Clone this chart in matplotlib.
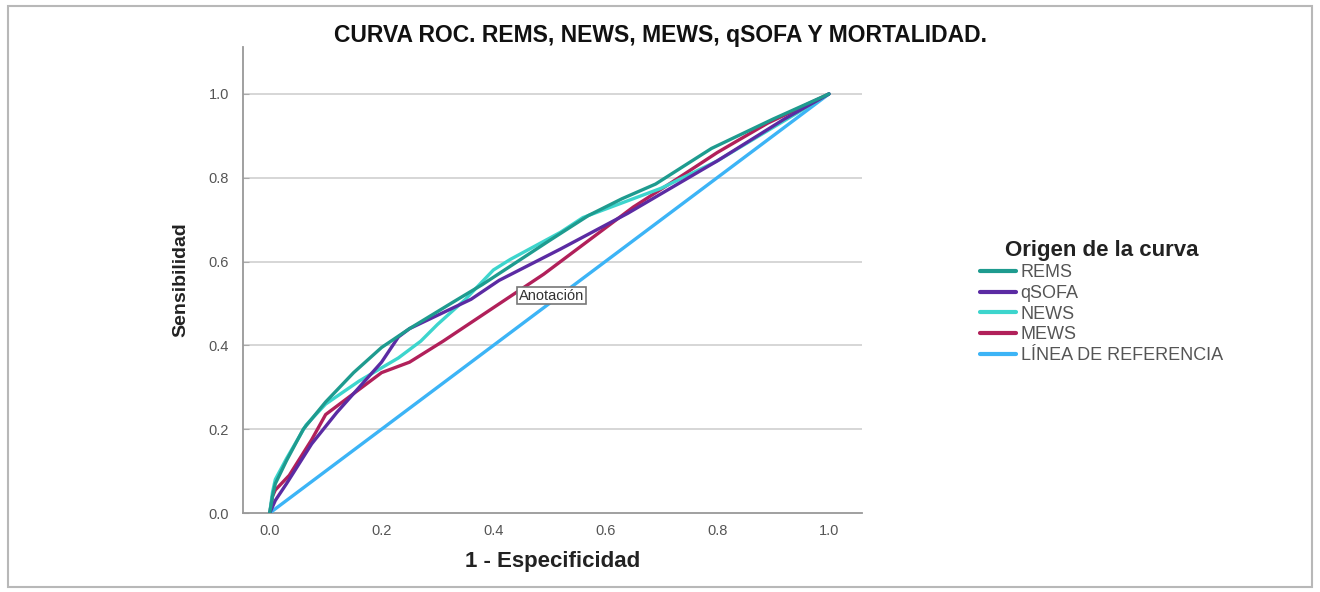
import matplotlib.pyplot as plt
from matplotlib.patches import Rectangle

plt.rcParams['font.family'] = ['Liberation Sans', 'DejaVu Sans']

rems_x = [0, 0.005, 0.01, 0.03, 0.06, 0.1, 0.15, 0.2, 0.25, 0.33, 0.38, 0.46, 0.5, 0.57, 0.63, 0.69, 0.79, 0.9, 1.0]
rems_y = [0, 0.04, 0.07, 0.125, 0.2, 0.265, 0.335, 0.395, 0.44, 0.505, 0.545, 0.615, 0.65, 0.71, 0.75, 0.785, 0.87, 0.94, 1.0]

qsofa_x = [0, 0.01, 0.03, 0.075, 0.12, 0.2, 0.23, 0.25, 0.36, 0.41, 0.52, 0.64, 0.8, 0.92, 1.0]
qsofa_y = [0, 0.03, 0.07, 0.165, 0.24, 0.36, 0.42, 0.44, 0.51, 0.555, 0.63, 0.715, 0.84, 0.94, 1.0]

news_x = [0, 0.005, 0.01, 0.03, 0.065, 0.1, 0.16, 0.23, 0.27, 0.3, 0.35, 0.4, 0.43, 0.52, 0.56, 0.64, 0.7, 0.8, 0.9, 1.0]
news_y = [0, 0.05, 0.08, 0.13, 0.21, 0.26, 0.315, 0.37, 0.41, 0.45, 0.51, 0.58, 0.605, 0.67, 0.705, 0.745, 0.775, 0.84, 0.92, 1.0]

mews_x = [0, 0.005, 0.01, 0.035, 0.075, 0.1, 0.135, 0.2, 0.25, 0.31, 0.49, 0.65, 0.72, 0.8, 0.89, 1.0]
mews_y = [0, 0.04, 0.055, 0.09, 0.175, 0.235, 0.27, 0.335, 0.36, 0.41, 0.57, 0.73, 0.79, 0.86, 0.93, 1.0]

ref_x = [0, 1.0]
ref_y = [0, 1.0]

series = [
    ('REMS', rems_x, rems_y, '#1e9b8f'),
    ('qSOFA', qsofa_x, qsofa_y, '#5b2ba3'),
    ('NEWS', news_x, news_y, '#3dd5cd'),
    ('MEWS', mews_x, mews_y, '#b1205a'),
    ('LÍNEA DE REFERENCIA', ref_x, ref_y, '#3cb4f6'),
]

fig = plt.figure(figsize=(13.2, 5.92), dpi=100)
ax = fig.add_axes([0.184, 0.1334, 0.469, 0.7872])

# líneas de la rejilla
ax.set_yticks([0.0, 0.2, 0.4, 0.6, 0.8, 1.0])
ax.set_xticks([0.0, 0.2, 0.4, 0.6, 0.8, 1.0])
for yv in [0.2, 0.4, 0.6, 0.8, 1.0]:
    ax.axhline(yv, color='#d6d6d6', lw=1.4, zorder=1)

# curvas (la de referencia se dibuja debajo)
for name, xs, ys, col in series[::-1]:
    ax.plot(xs, ys, color=col, lw=2.4, label=name, zorder=3,
            solid_capstyle='round', solid_joinstyle='round')

ax.set_xlim(-0.048, 1.059)
ax.set_ylim(0, 1.112)

ax.spines['top'].set_visible(False)
ax.spines['right'].set_visible(False)
ax.spines['left'].set_color('#999999')
ax.spines['bottom'].set_color('#999999')
ax.spines['left'].set_linewidth(1.3)
ax.spines['bottom'].set_linewidth(1.3)
ax.tick_params(axis='y', direction='in', length=4, color='#aaaaaa', labelsize=10.5, labelcolor='#555555', pad=10)
ax.tick_params(axis='x', length=0, labelsize=10.5, labelcolor='#555555', pad=8)
ax.xaxis.set_major_formatter(plt.FormatStrFormatter('%.1f'))
ax.yaxis.set_major_formatter(plt.FormatStrFormatter('%.1f'))

ax.set_xlabel('1 - Especificidad', fontsize=16, fontweight='bold', color='#222222', labelpad=9)
ax.set_ylabel('Sensibilidad', fontsize=14, fontweight='bold', color='#222222', labelpad=14)

fig.text(0.5, 0.94, 'CURVA ROC. REMS, NEWS, MEWS, qSOFA Y MORTALIDAD.',
         ha='center', va='center', fontsize=16.5, fontweight='bold', color='#111111')

ax.text(0.504, 0.518, 'Anotación', ha='center', va='center', fontsize=10.5, color='#333333', zorder=5,
        bbox=dict(boxstyle='square,pad=0.1', fc='white', ec='#777777', lw=1.2))

handles, labels = ax.get_legend_handles_labels()
order = [labels.index(s[0]) for s in series]
leg = fig.legend([handles[i] for i in order], [labels[i] for i in order],
                 loc='upper left', bbox_to_anchor=(0.737, 0.607), frameon=False,
                 title='Origen de la curva', fontsize=13, handlelength=2.0,
                 handletextpad=0.25, labelspacing=0.2, borderaxespad=0)
leg.get_title().set_fontsize(16)
leg.get_title().set_fontweight('bold')
leg.get_title().set_color('#222222')
for t in leg.get_texts():
    t.set_color('#555555')
for h in leg.legend_handles:
    h.set_linewidth(3)

# marco exterior
fig.patches.append(Rectangle((0.006, 0.008), 0.988, 0.982, transform=fig.transFigure,
                             fill=False, ec='#b8b8b8', lw=1.5))

fig.savefig('out.png', dpi=100)
